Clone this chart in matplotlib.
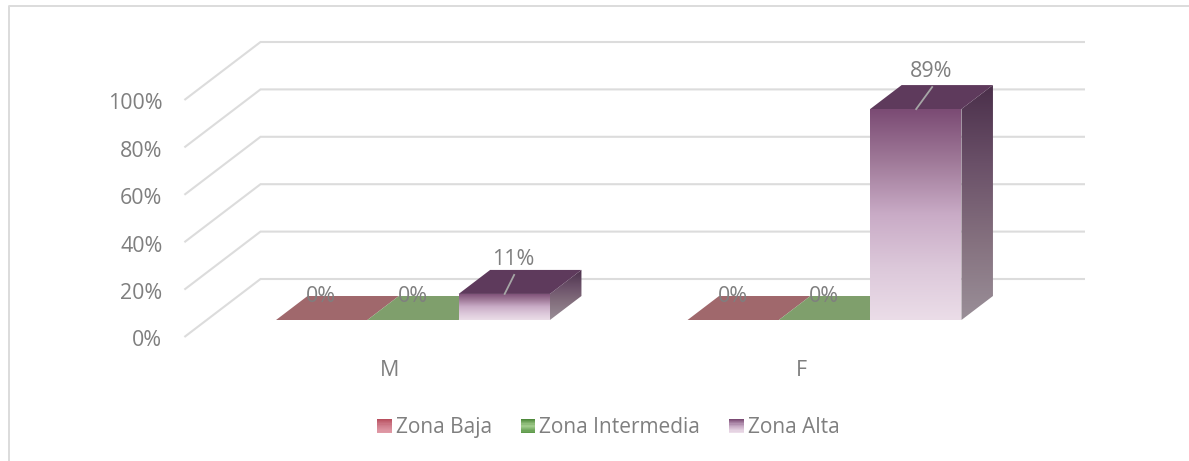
import matplotlib
matplotlib.use("Agg")
import matplotlib.pyplot as plt
import numpy as np
from matplotlib.colors import LinearSegmentedColormap
from matplotlib.legend_handler import HandlerBase
from matplotlib.patches import Polygon, Rectangle

# ---- data ----
categories = ["M", "F"]
series_names = ["Zona Baja", "Zona Intermedia", "Zona Alta"]
zona_baja = [0, 0]
zona_intermedia = [0, 0]
zona_alta = [11, 89]
y_ticks = [0, 20, 40, 60, 80, 100]

W, H = 1189, 461
plt.rcParams["font.family"] = ["Open Sans", "DejaVu Sans"]
TXT = "#7f7f7f"
GRID = "#dcdcdc"
FS_AXIS = 15.4
FS_LEG = 15.0

fig = plt.figure(figsize=(W / 100, H / 100), dpi=100)
ax = fig.add_axes([0, 0, 1, 1])
ax.set_axis_off()

# scales: category spacing and percent height, from the front plane of the bars
PX_CAT = 411.5
PX_PCT = 2.37
X0_PX, Y0_PX = 413.0, 320.0
ax.set_xlim((0 - X0_PX) / PX_CAT, (W - X0_PX) / PX_CAT)
ax.set_ylim((Y0_PX - H) / PX_PCT, Y0_PX / PX_PCT)

# one unit of depth = the depth of a bar
DX = 31.5 / PX_CAT
DY = 24.0 / PX_PCT
BAR_W = 91.3 / PX_CAT
# leader line reach of each labelled bar, in pixels
LEADER_PX = [(9.5, 19), (16, 22)]


def P(x, v, d=0.0):
    return (x + d * DX, v + d * DY)


def grad(stops):
    return LinearSegmentedColormap.from_list("g", stops)


def fill(poly, cmap, vmin_v, vmax_v, zorder):
    """Vertical gradient from top to bottom, clipped to a polygon."""
    pts = np.array(poly)
    patch = Polygon(pts, closed=True, transform=ax.transData, fc="none", ec="none")
    ax.add_patch(patch)
    g = np.linspace(0, 1, 256).reshape(-1, 1)
    im = ax.imshow(
        g, cmap=cmap, aspect="auto", interpolation="bilinear",
        extent=(pts[:, 0].min(), pts[:, 0].max(), vmin_v, vmax_v), zorder=zorder,
    )
    im.set_clip_path(patch)


front_cm = grad(["#7b4b74", "#a07a99", "#c9abc6", "#dcc8da", "#ebdde8"])
side_cm = grad(["#4a2f4a", "#6a5068", "#85717f", "#9a8f98"])
TOP_C = "#5e3a5c"
ZERO_C = {"Zona Baja": "#a0686c", "Zona Intermedia": "#7f9f6c"}
LEG = {
    "Zona Baja": ["#b8505f", "#d07f8e", "#e09aa6"],
    "Zona Intermedia": ["#4f8a3c", "#a5cf90", "#5f9a4c"],
    "Zona Alta": ["#7b4b74", "#c5a8c3", "#ecdde9"],
}

# ---- walls / gridlines ----
D_FRONT, D_BACK = -17 / 24, 41 / 24
X_RIGHT = (1085 - X0_PX) / PX_CAT
X_LEFT = (206.7 - X0_PX) / PX_CAT
for t in y_ticks:
    a = P(X_LEFT, t, D_FRONT)
    b = P(X_LEFT, t, D_BACK)
    c = (X_RIGHT, b[1])
    ax.plot([a[0], b[0], c[0]], [a[1], b[1], c[1]], color=GRID, lw=1.5, zorder=1,
            solid_joinstyle="miter", solid_capstyle="butt")
    ax.text(a[0] - 22 / PX_CAT, a[1] - 3.8 / PX_PCT, f"{t}%", ha="right", va="center",
            fontsize=FS_AXIS, color=TXT, zorder=6)

# ---- bars ----
series = [zona_baja, zona_intermedia, zona_alta]
for s, (name, vals) in enumerate(zip(series_names, series)):
    for c, v in enumerate(vals):
        x0 = c + (s - 1.5) * BAR_W
        x1 = x0 + BAR_W
        if v == 0:
            ax.add_patch(Polygon([P(x0, 0), P(x1, 0), P(x1, 0, 1), P(x0, 0, 1)],
                                 closed=True, fc=ZERO_C[name], ec="none", zorder=3))
            lx, ly = P((x0 + x1) / 2, 0, 1)
            ax.text(lx - 32 / PX_CAT, ly + 0 / PX_PCT, f"{v}%", ha="center", va="center",
                    fontsize=FS_AXIS, color=TXT, zorder=7)
            continue
        side = [P(x1, 0), P(x1, v), P(x1, v, 1), P(x1, 0, 1)]
        fill(side, side_cm, 0, v + DY, 3)
        ax.add_patch(Polygon([P(x0, v), P(x1, v), P(x1, v, 1), P(x0, v, 1)],
                             closed=True, fc=TOP_C, ec="none", zorder=4))
        fill([P(x0, 0), P(x1, 0), P(x1, v), P(x0, v)], front_cm, 0, v, 5)
        # leader line and label
        cx = x0 + 46 / PX_CAT
        tip = P(cx, v, 0)
        lx_px, ly_px = LEADER_PX[c]
        end = (tip[0] + lx_px / PX_CAT, tip[1] + ly_px / PX_PCT)
        ax.plot([tip[0], end[0]], [tip[1], end[1]], color="#a6a6a6", lw=1.3, zorder=6)
        ax.text(end[0] - 1 / PX_CAT, end[1] + 15.5 / PX_PCT, f"{v}%", ha="center", va="center",
                fontsize=FS_AXIS, color=TXT, zorder=7)

for c, name in enumerate(categories):
    ax.text(c - 23.5 / PX_CAT, (Y0_PX - 370) / PX_PCT, name, ha="center", va="center",
            fontsize=FS_AXIS, color=TXT)

# ---- chart frame ----
fx0, fx1 = 9 / W, 1.0
fy = 1 - 6.5 / H
fig.add_artist(plt.Line2D([fx0, fx0, fx1], [0, fy, fy], transform=fig.transFigure,
                          color=GRID, lw=1.4))


# ---- legend ----
class GradHandler(HandlerBase):
    def create_artists(self, legend, orig, xd, yd, w, h, fs, trans):
        cm = grad(LEG[orig.get_label()])
        n = 12
        out = []
        size = 10.2
        for i in range(n):
            out.append(Rectangle((-xd, -yd + size * (1 - (i + 1) / n) - 0.5), size, size / n + 0.3,
                                 fc=cm(i / (n - 1)), ec="none", transform=trans))
        return out


handles = [Rectangle((0, 0), 1, 1, label=n) for n in series_names]
leg = fig.legend(handles=handles, labels=series_names, ncol=3, frameon=False,
                 loc="center", bbox_to_anchor=(608.5 / W, 1 - 427 / H), fontsize=FS_LEG,
                 labelcolor=TXT, handler_map={Rectangle: GradHandler()},
                 handlelength=0.68, handletextpad=0.2, columnspacing=1.4, borderpad=0)

fig.savefig("out.png", dpi=100)
